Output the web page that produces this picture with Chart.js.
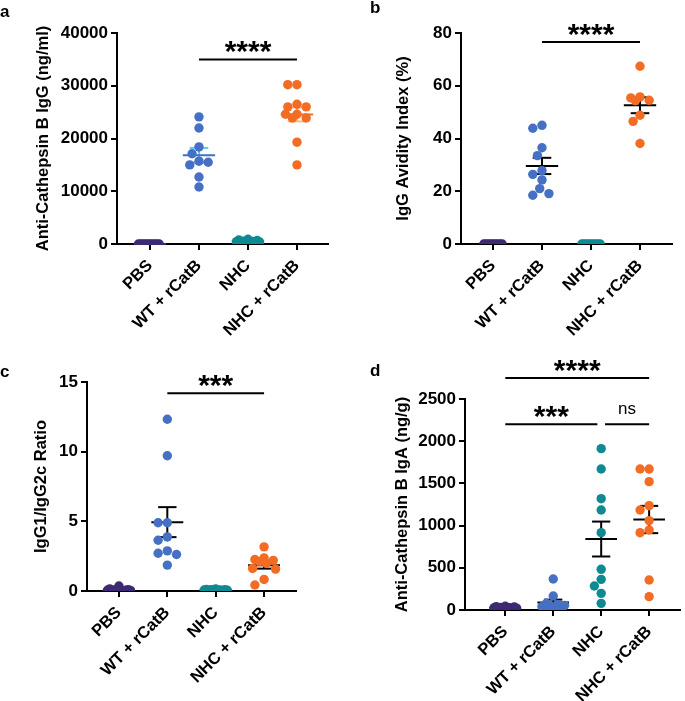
<!DOCTYPE html>
<html>
<head>
<meta charset="utf-8">
<script src="https://cdn.jsdelivr.net/npm/chart.js@4.4.0/dist/chart.umd.min.js"></script>
<style>
  html, body { margin: 0; padding: 0; background: #fff; }
  #wrap { position: relative; width: 685px; height: 701px; overflow: hidden; }
  canvas { position: absolute; }
</style>
</head>
<body>
<div id="wrap">
  <canvas id="panelA" width="340" height="345" style="left:0;top:0"></canvas>
  <canvas id="panelB" width="345" height="345" style="left:340px;top:0"></canvas>
  <canvas id="panelC" width="340" height="371" style="left:0;top:330px"></canvas>
  <canvas id="panelD" width="345" height="371" style="left:340px;top:330px"></canvas>
</div>
<script>
const groups = ['PBS', 'WT + rCatB', 'NHC', 'NHC + rCatB'];

// a - anti-cathepsin B IgG (ng/ml)
const iggPBS = [0, 0, 0, 0, 0, 0, 0, 0, 0, 0];
const iggWT = [24100, 22000, 18400, 17100, 15700, 15500, 15000, 12700, 10800];
const iggNHC = [900, 750, 650, 550, 500, 450, 400, 350, 300, 250];
const iggNHCr = [30200, 30200, 26500, 26000, 26000, 24600, 24600, 23900, 23900, 19300, 15000];
const iggTicks = [0, 10000, 20000, 30000, 40000];
const iggSig = [{ from: 1, to: 3, level: 35000, label: '****' }];

// b - IgG avidity index (%)
const avPBS = [0, 0, 0, 0, 0, 0, 0, 0, 0];
const avWT = [45.0, 43.9, 36.5, 33.5, 27.8, 26.4, 24.3, 21.0, 19.1, 18.5];
const avNHC = [0, 0, 0, 0, 0, 0, 0, 0, 0];
const avNHCr = [67.4, 55.8, 55.4, 54.5, 54.3, 48.8, 46.5, 38.1];
const avTicks = [0, 20, 40, 60, 80];
const avSig = [{ from: 1, to: 3, level: 76.6, label: '****' }];

// c - IgG1/IgG2c ratio
const ratioPBS = [0.36, 0.15, 0.1, 0.08, 0.06, 0.05, 0.05, 0.04, 0.03, 0.02];
const ratioWT = [12.33, 9.71, 4.9, 4.9, 3.88, 3.64, 2.88, 2.71, 2.62, 1.86];
const ratioNHC = [0.15, 0.12, 0.1, 0.09, 0.08, 0.07, 0.06, 0.05, 0.04, 0.03];
const ratioNHCr = [3.17, 2.38, 2.26, 2.2, 2.1, 1.98, 1.62, 1.57, 0.83, 0.43];
const ratioTicks = [0, 5, 10, 15];
const ratioSig = [{ from: 1, to: 3, level: 14.2, label: '***' }];

// d - anti-cathepsin B IgA (ng/g)
const igaPBS = [45, 40, 35, 30, 28, 25, 22, 20, 15, 10];
const igaWT = [367, 166, 80, 65, 55, 45, 40, 30, 25, 20];
const igaNHC = [1912, 1671, 1319, 1185, 916, 482, 363, 284, 197, 79];
const igaNHCr = [1671, 1671, 1521, 1236, 1185, 1059, 948, 916, 356, 158];
const igaTicks = [0, 500, 1000, 1500, 2000, 2500];
const igaSig = [
  { from: 0, to: 3, level: 2750, label: '****' },
  { from: 0, to: 1.92, level: 2200, label: '***' },
  { from: 2.08, to: 3, level: 2200, label: 'ns' }
];

const FONT = "'Liberation Sans', Arial, Helvetica, sans-serif";
const purple = '#3d2a72', blue = '#4570c4', teal = '#0f8a92', orange = '#f36c23';
const dotColors = [purple, blue, teal, orange];

function meanOf(a) { return a.reduce((s, v) => s + v, 0) / a.length; }
function semOf(a) {
  const m = meanOf(a);
  const sd = Math.sqrt(a.reduce((s, v) => s + (v - m) ** 2, 0) / (a.length - 1));
  return sd / Math.sqrt(a.length);
}

// simple beeswarm in pixel space, returns offsets in category units
function swarm(values, pxPerUnit, pxPerCat) {
  const D = 9, H = 11.5, step = H / 5;
  const cands = [0];
  for (let k = 1; k <= 5; k++) cands.push(-k * step, k * step);
  const order = values.map((v, i) => i).sort((a, b) => values[b] - values[a]);
  const placed = [];
  const off = new Array(values.length).fill(0);
  order.forEach(i => {
    const y = values[i] * pxPerUnit;
    const minDist = c => placed.reduce((m, p) => Math.min(m, Math.hypot(p.x - c, p.y - y)), Infinity);
    let pick = cands.find(c => minDist(c) >= D);
    if (pick === undefined) {
      let best = -1;
      cands.forEach(c => { const d = minDist(c); if (d > best + 0.01) { best = d; pick = c; } });
    }
    off[i] = pick;
    placed.push({ x: pick, y });
  });
  return off.map(o => o / pxPerCat);
}

const annot = {
  id: 'annot',
  afterDraw(chart, args, opts) {
    const { ctx } = chart;
    const x = chart.scales.x, y = chart.scales.y;
    ctx.save();
    ctx.fillStyle = '#000';
    ctx.textAlign = 'center';
    ctx.textBaseline = 'alphabetic';
    opts.sig.forEach(s => {
      const px = x.getPixelForValue((s.from + s.to) / 2);
      const py = y.getPixelForValue(s.level);
      if (s.label === 'ns') {
        ctx.font = '17px ' + FONT;
        ctx.fillText(s.label, px, py - 10);
      } else {
        ctx.font = 'bold 30px ' + FONT;
        ctx.fillText(s.label, px, py + 2);
      }
    });
    ctx.textAlign = 'left';
    ctx.font = 'bold 17px ' + FONT;
    ctx.fillText(opts.letter[0], opts.letter[1], opts.letter[2]);
    ctx.restore();
  }
};

function makePanel(cfg) {
  const { id, size, box, xRange, ticks, series, title, titleX, letter, sig, meanColors, semColors } = cfg;
  const yMax = ticks[ticks.length - 1];
  const pxPerUnit = (box.b - box.t) / yMax;
  const pxPerCat = (box.r - box.l) / (xRange[1] - xRange[0]);
  const datasets = [];
  const seg = (pts, color, order) => datasets.push({
    type: 'line', data: pts, borderColor: color, borderWidth: 2, pointRadius: 0,
    fill: false, order: order, clip: false, borderCapStyle: 'butt'
  });

  series.forEach((vals, i) => {
    const off = swarm(vals, pxPerUnit, pxPerCat);
    datasets.push({
      type: 'scatter',
      data: vals.map((v, k) => ({ x: i + off[k], y: v })),
      backgroundColor: dotColors[i],
      borderWidth: 0,
      pointRadius: 4.7,
      pointHoverRadius: 4.7,
      order: 1
    });
  });

  // mean +/- SEM
  series.forEach((vals, i) => {
    const m = meanOf(vals), s = semOf(vals);
    seg([{ x: i - 0.33, y: m }, { x: i + 0.33, y: m }], meanColors[i], 2);
    if (s > 0) {
      seg([{ x: i, y: m - s }, { x: i, y: m + s }], semColors[i], 2);
      seg([{ x: i - 0.19, y: m + s }, { x: i + 0.19, y: m + s }], semColors[i], 2);
      seg([{ x: i - 0.19, y: m - s }, { x: i + 0.19, y: m - s }], semColors[i], 2);
    }
  });

  // significance brackets
  sig.forEach(s => seg([{ x: s.from, y: s.level }, { x: s.to, y: s.level }], '#000', 3));

  new Chart(document.getElementById(id), {
    type: 'scatter',
    data: { datasets },
    options: {
      responsive: false,
      animation: false,
      devicePixelRatio: 1,
      events: [],
      layout: { padding: { left: 0, top: box.t, right: size[0] - box.r, bottom: 0 } },
      plugins: {
        legend: { display: false },
        tooltip: { enabled: false },
        annot: { sig: sig, letter: letter }
      },
      scales: {
        x: {
          type: 'linear',
          min: xRange[0],
          max: xRange[1],
          afterBuildTicks: sc => { sc.ticks = groups.map((g, i) => ({ value: i })); },
          afterFit: sc => { sc.height = size[1] - box.b; },
          border: { display: true, color: '#000', width: 2 },
          grid: { display: true, drawOnChartArea: false, drawTicks: true, tickLength: 6, color: '#000', lineWidth: 2 },
          ticks: {
            autoSkip: false, minRotation: 45, maxRotation: 45, padding: 6,
            color: '#000', font: { family: FONT, size: 16.5, weight: 'bold' },
            callback: v => groups[v]
          }
        },
        y: {
          type: 'linear',
          min: 0,
          max: yMax,
          afterBuildTicks: sc => { sc.ticks = ticks.map(v => ({ value: v })); },
          afterFit: sc => { sc.width = box.l; },
          border: { display: true, color: '#000', width: 2 },
          grid: { display: true, drawOnChartArea: false, drawTicks: true, tickLength: 6, color: '#000', lineWidth: 2 },
          ticks: {
            padding: 3, color: '#000', font: { family: FONT, size: 17, weight: 'bold' },
            callback: v => String(v)
          },
          title: {
            display: true, text: title, color: '#000',
            font: { family: FONT, size: 16.5, weight: 'bold' },
            padding: { top: titleX - 9.9, bottom: 0 }
          }
        }
      }
    },
    plugins: [annot]
  });
}

makePanel({
  id: 'panelA', size: [340, 345], box: { l: 117, r: 328, t: 33, b: 244 }, xRange: [-0.673, 3.633],
  ticks: iggTicks, series: [iggPBS, iggWT, iggNHC, iggNHCr],
  title: 'Anti-Cathepsin B IgG (ng/ml)', titleX: 43, letter: ['a', 0, 17], sig: iggSig,
  meanColors: [purple, blue, teal, orange], semColors: [purple, '#5cc6f2', teal, '#f8b993']
});
makePanel({
  id: 'panelB', size: [345, 345], box: { l: 121, r: 332, t: 33, b: 244 }, xRange: [-0.653, 3.653],
  ticks: avTicks, series: [avPBS, avWT, avNHC, avNHCr],
  title: 'IgG Avidity Index (%)', titleX: 63, letter: ['b', 30, 13], sig: avSig,
  meanColors: ['#000', '#000', '#000', '#000'], semColors: ['#000', '#000', '#000', '#000']
});
makePanel({
  id: 'panelC', size: [340, 371], box: { l: 87, r: 296, t: 52, b: 261 }, xRange: [-0.66, 3.66],
  ticks: ratioTicks, series: [ratioPBS, ratioWT, ratioNHC, ratioNHCr],
  title: 'IgG1/IgG2c Ratio', titleX: 41, letter: ['c', 0, 47], sig: ratioSig,
  meanColors: ['#000', '#000', '#000', '#000'], semColors: ['#000', '#000', '#000', '#000']
});
makePanel({
  id: 'panelD', size: [345, 371], box: { l: 125, r: 344, t: 69, b: 280 }, xRange: [-0.84, 3.65],
  ticks: igaTicks, series: [igaPBS, igaWT, igaNHC, igaNHCr],
  title: 'Anti-Cathepsin B IgA (ng/g)', titleX: 62, letter: ['d', 30, 46], sig: igaSig,
  meanColors: ['#000', '#000', '#000', '#000'], semColors: ['#000', '#000', '#000', '#000']
});
</script>
</body>
</html>
